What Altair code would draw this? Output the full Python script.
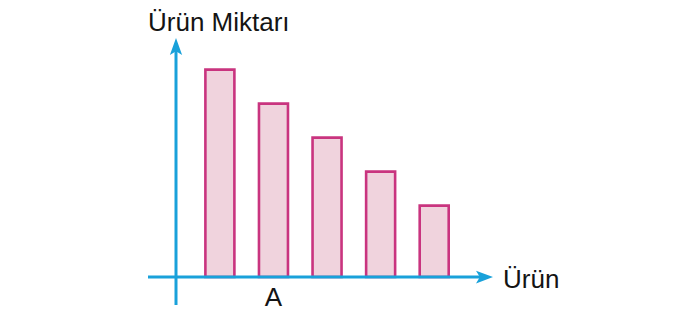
import altair as alt
import pandas as pd

# Data (arbitrary units)
items = [1, 2, 3, 4, 5]
amounts = [6.1, 5.1, 4.1, 3.1, 2.1]
y_title = "Ürün Miktarı"
x_title = "Ürün"
marked_label = "A"
marked_item = 2

BLUE = "#19a1da"
BAR_FILL = "#f0d3dd"
BAR_STROKE = "#c9347f"
TEXT = "#141414"
FONT = "Liberation Sans"

df = pd.DataFrame({"item": items, "amount": amounts})
one = alt.Data(values=[{}])

xs = alt.Scale(domain=[-3.0109, 9.6064], nice=False, zero=False)
ys = alt.Scale(domain=[-1.7353, 8.147], nice=False, zero=False)

bars = alt.Chart(df).mark_bar(
    width=29, fill=BAR_FILL, stroke=BAR_STROKE, strokeWidth=2.6
).encode(
    x=alt.X("item:Q", scale=xs, axis=None),
    y=alt.Y("amount:Q", scale=ys, axis=None),
)

y_line = alt.Chart(one).mark_rule(color=BLUE, strokeWidth=3).encode(
    x=alt.value(176), y=alt.value(50), y2=alt.value(305)
)
x_line = alt.Chart(one).mark_rule(color=BLUE, strokeWidth=3).encode(
    x=alt.value(148), x2=alt.value(485), y=alt.value(277)
)

up_arrow = alt.Chart(one).mark_point(
    shape="M0,-1L0.72,1L0,0.55L-0.72,1Z", filled=True, size=289,
    color=BLUE, opacity=1, strokeWidth=0
).encode(x=alt.value(176), y=alt.value(46.5))

right_arrow = alt.Chart(one).mark_point(
    shape="M1,0L-1,0.75L-0.55,0L-1,-0.75Z", filled=True, size=289,
    color=BLUE, opacity=1, strokeWidth=0
).encode(x=alt.value(484.5), y=alt.value(277))

y_lab = alt.Chart(one).mark_text(
    align="left", baseline="alphabetic", font=FONT, fontSize=26, color=TEXT
).encode(x=alt.value(148), y=alt.value(31), text=alt.value(y_title))

x_lab = alt.Chart(one).mark_text(
    align="left", baseline="alphabetic", font=FONT, fontSize=26, color=TEXT
).encode(x=alt.value(503), y=alt.value(288), text=alt.value(x_title))

a_lab = alt.Chart(one).mark_text(
    align="center", baseline="alphabetic", font=FONT, fontSize=26, color=TEXT
).encode(
    x=alt.X(datum=marked_item, type="quantitative", scale=xs, axis=None),
    y=alt.value(306),
    text=alt.value(marked_label),
)

chart = alt.layer(
    bars, x_line, y_line, up_arrow, right_arrow, y_lab, x_lab, a_lab
).properties(
    width=686, height=336, autosize=alt.AutoSizeParams(type="none"), padding=0,
    background="white",
).configure_view(stroke=None)

chart.save("out.html", embed_options={"renderer": "svg", "actions": False})
